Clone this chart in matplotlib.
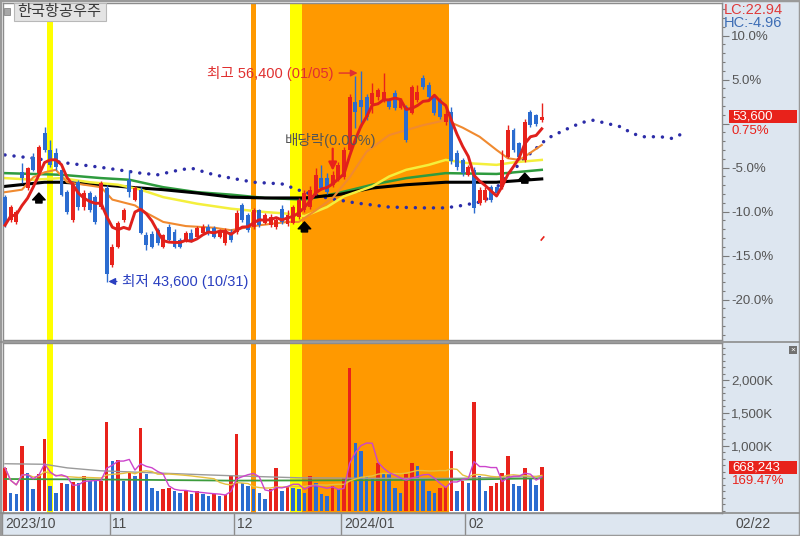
import numpy as np
import pandas as pd
import matplotlib
matplotlib.use("Agg")
import matplotlib.pyplot as plt
import matplotlib.transforms as mtransforms
from matplotlib.patches import Rectangle

plt.rcParams['font.family'] = ['Liberation Sans', 'Noto Sans CJK KR', 'DejaVu Sans']

# ---- data (daily candles 2023/10/04 .. 2024/02/22) ----
stock_name = "한국항공우주"
opens = [48750, 47350, 47250, 50250, 49300, 51200, 50200, 52600, 51600, 51400,
         50400, 49050, 47350, 49650, 48150, 49000, 48750, 48150, 49300, 44650,
         45750, 47350, 49800, 48600, 49200, 46450, 46550, 46750, 45750, 46950,
         46650, 46150, 46150, 46600, 46350, 46600, 46950, 46900, 46350, 45950,
         46650, 46650, 48250, 47650, 46950, 47950, 47200, 47050, 46950, 48050,
         47100, 47200, 47550, 47950, 48150, 49000, 49900, 49900, 49500, 49800,
         49950, 51600, 54500, 54650, 54800, 54400, 54800, 54600, 54600, 55050,
         54150, 54200, 53850, 54600, 55950, 55550, 54800, 54600, 53300, 53900,
         51400, 51000, 50100, 50400, 48400, 48550, 49350, 49350, 49350, 51200,
         52800, 52000, 51000, 53900, 53700, 53400]
closes = [47050, 48150, 47850, 49900, 50500, 50400, 51800, 51600, 50700, 50550,
          48900, 47850, 49500, 48150, 49000, 47950, 47250, 49600, 44100, 45750,
          47200, 47950, 49050, 49300, 46600, 45850, 45750, 45950, 46450, 46150,
          45750, 45750, 46600, 46150, 46900, 46950, 46600, 46350, 46650, 46750,
          46150, 47800, 47350, 46750, 47950, 47050, 47650, 47550, 47350, 47250,
          47650, 48150, 48600, 49000, 49200, 50100, 49300, 49050, 50100, 50700,
          51600, 54800, 53900, 54200, 53600, 55050, 55200, 55100, 54200, 54150,
          54600, 52200, 55400, 55100, 55400, 54800, 53850, 53600, 53800, 50950,
          50550, 50200, 50550, 48100, 49200, 49200, 48600, 49000, 51000, 52800,
          51600, 51200, 53300, 53100, 53200, 53600]
highs = [48850, 48300, 48000, 50800, 50600, 51400, 51900, 53000, 52200, 51700,
         50500, 49200, 49650, 49800, 49200, 49150, 48900, 49750, 49500, 45900,
         47300, 48100, 50400, 49400, 49350, 46650, 46700, 46900, 46550, 47100,
         46800, 46250, 46700, 46800, 47000, 47100, 47100, 47000, 46800, 46900,
         46800, 47950, 48400, 47800, 48100, 48050, 47800, 47700, 47500, 48300,
         48000, 48300, 48700, 49200, 49400, 50500, 50700, 50200, 50300, 50900,
         51800, 55000, 56100, 56400, 55000, 55650, 55350, 56250, 54750, 55250,
         54750, 54300, 55550, 55500, 56150, 55700, 54950, 54750, 54300, 54200,
         51600, 51100, 50700, 50600, 49350, 49350, 49500, 49450, 51600, 53100,
         52900, 52100, 53450, 54000, 53800, 54450]
lows = [46950, 47250, 47150, 49600, 49200, 50300, 50100, 51500, 50600, 50400,
        48800, 47700, 47250, 48000, 48000, 47850, 47100, 48050, 43600, 44500,
        45650, 47250, 48750, 48500, 46500, 45550, 45650, 45850, 45650, 46050,
        45650, 45650, 46050, 46050, 46250, 46500, 46450, 46250, 46250, 45850,
        46050, 46550, 47250, 46650, 46850, 46950, 47100, 46950, 46850, 47150,
        47000, 47100, 47450, 47850, 48050, 48900, 49200, 48950, 49350, 49700,
        49850, 51500, 52950, 53000, 53400, 53850, 54650, 54500, 54100, 54000,
        54050, 52100, 53750, 54500, 55300, 54700, 53700, 53450, 53100, 50750,
        50400, 50050, 50000, 47800, 48300, 48450, 48450, 48900, 49250, 51100,
        51500, 51050, 50900, 53000, 53050, 53300]
volumes = [662000, 277000, 262000, 1000000, 585000, 338000, 569000, 1108000, 385000, 277000,
           431000, 415000, 450000, 431000, 538000, 462000, 455000, 462000, 1354000, 769000,
           775000, 462000, 585000, 538000, 1262000, 569000, 354000, 308000, 338000, 354000,
           308000, 277000, 300000, 262000, 308000, 262000, 231000, 262000, 231000, 240000,
           538000, 1185000, 431000, 385000, 338000, 277000, 185000, 338000, 662000, 308000,
           385000, 354000, 338000, 277000, 538000, 431000, 262000, 231000, 385000, 338000,
           508000, 2185000, 1046000, 923000, 538000, 492000, 738000, 585000, 580000, 354000,
           277000, 569000, 738000, 692000, 492000, 308000, 277000, 354000, 360000, 923000,
           308000, 462000, 431000, 1662000, 538000, 308000, 385000, 431000, 585000, 846000,
           415000, 385000, 662000, 508000, 394307, 668243]

# longer moving averages (index, price)
ma20_x = [0, 3, 5, 7, 9, 11, 14, 17, 19, 23, 25, 28, 32, 37, 40, 45, 50, 52, 55, 58,
          61, 64, 68, 74, 78, 79, 81, 84, 87, 89, 91, 92, 95]
ma20 = [49050, 49200, 49950, 50250, 50400, 49650, 49500, 49350, 48600, 48250, 47800,
        47250, 47000, 46900, 46750, 47050, 47250, 47250, 47950, 48700, 49950, 51500,
        52500, 53100, 53400, 53250, 52950, 52400, 51600, 51100, 51000, 51200, 51900]
ma60_x = [0, 5, 10, 15, 20, 24, 28, 34, 40, 46, 50, 53, 57, 60, 65, 68, 71, 75, 78,
          82, 87, 90, 95]
ma60 = [49900, 49800, 49900, 49650, 49500, 49200, 48750, 48350, 48050, 47850, 47750,
        47600, 48150, 48800, 49400, 50000, 50400, 50700, 51000, 50800, 50700, 50850, 51000]
ma120_x = [0, 10, 17, 22, 28, 34, 40, 46, 53, 59, 65, 71, 78, 87, 95]
ma120 = [50200, 50100, 49900, 49800, 49350, 49050, 48900, 48700, 48600, 49000, 49500,
         49900, 50200, 50150, 50400]
ma240_x = [0, 7, 10, 17, 22, 28, 34, 40, 46, 53, 59, 65, 71, 78, 87, 95]
ma240 = [49400, 49650, 49650, 49500, 49350, 49200, 49000, 48750, 48700, 48700, 48900,
         49300, 49500, 49650, 49650, 49850]
# leading span (runs 26 days past the last candle)
span_x = [0, 5, 10, 17, 24, 27, 31, 33, 37, 40, 44, 49, 53, 57, 62, 68, 74, 78, 81,
          84, 86, 88, 90, 93, 96, 99, 102, 104, 106, 109, 111, 113, 116, 118, 120]
span = [51300, 51100, 50850, 50550, 50200, 50100, 50400, 50500, 50100, 49900, 49650,
        49550, 49050, 48700, 48400, 48150, 48100, 48100, 48250, 48450, 48750, 49800,
        50400, 51400, 52300, 52800, 53250, 53400, 53250, 53000, 52600, 52400, 52400,
        52300, 52600]
# volume moving averages (index, shares)
vma60_x = [0, 7, 11, 17, 26, 35, 40, 52, 65, 80, 95]
vma60 = [723000, 715000, 660000, 615000, 585000, 555000, 540000, 508000, 500000, 500000, 530000]
vma120_x = [0, 20, 40, 60, 80, 95]
vma120 = [490000, 480000, 465000, 470000, 480000, 500000]

month_labels = ['2023/10', '11', '12', '2024/01', '02']
month_starts = [0, 19, 41, 60, 82]
last_date = '02/22'
high_date = '01/05'
low_date = '10/31'
ex_div_idx = 58
ex_div_text = '배당락(0.00%)'
signal_idx = [6, 53, 92]
signal_price = [49000, 47250, 50200]
# highlighted days: (first, last, colour)
bands = [(8, 8, 'yellow'), (44, 44, 'orange'), (51, 52, 'yellow'), (53, 78, 'orange')]

RED = '#e8221b'
BLUE = '#2b6cd0'
PANEL = '#dde6f0'
GRID = '#8c8c8c'
band_colors = {'yellow': '#ffff00', 'orange': '#ff9900'}

W, H = 800, 536
fig = plt.figure(figsize=(W / 100, H / 100), dpi=100, facecolor='white')


def fbox(x0, y0, x1, y1):
    return [x0 / W, 1 - y1 / H, (x1 - x0) / W, (y1 - y0) / H]


def fy(py):
    return 1 - py / H


# right scale panel and date strip
fig.add_artist(Rectangle((722 / W, 0), 78 / W, 1, transform=fig.transFigure,
                         fc=PANEL, ec='none', zorder=-2))
fig.add_artist(Rectangle((0, 0), 722 / W, 23 / H, transform=fig.transFigure,
                         fc=PANEL, ec='none', zorder=-2))

ax = fig.add_axes(fbox(3, 3, 722, 340))
axv = fig.add_axes(fbox(3, 343, 722, 513))

n = len(closes)
x = np.arange(n)
o = np.array(opens)
c = np.array(closes)

for a in (ax, axv):
    for s, e, col in bands:
        a.axvspan(s - 0.5, e + 0.5, color=band_colors[col], lw=0, zorder=0)
    a.set_xlim(-0.354, 126.9)
    a.set_xticks([])
    for sp in a.spines.values():
        sp.set_color(GRID)
        sp.set_linewidth(1)

# ---- price panel ----
ax.plot(span_x, span, color='#2c2ca8', lw=2.5, ls=(0, (0.01, 2.6)),
        dash_capstyle='round', zorder=2)
ax.plot(ma240_x, ma240, color='black', lw=2.2, zorder=2.2)
ax.plot(ma120_x, ma120, color='#2e9b3e', lw=1.8, zorder=2.1)
ax.plot(ma60_x, ma60, color='#f4ef3c', lw=1.8, zorder=2.3)
ax.plot(ma20_x, ma20, color='#f08a30', lw=1.5, zorder=2.4)

ccol = np.where(c >= o, RED, BLUE)
ax.vlines(x, lows, highs, colors=ccol, lw=1, zorder=3)
ax.bar(x, np.maximum(np.abs(c - o), 60), bottom=np.minimum(o, c), width=0.7,
       color=ccol, lw=0, zorder=4)

ma5 = pd.Series(closes).rolling(5, min_periods=1).mean()
ax.plot(x, ma5, color='#e0201c', lw=2.1, zorder=5)

for i, p in zip(signal_idx, signal_price):
    ax.annotate('', xy=(i, p), xytext=(0, -10), textcoords='offset pixels',
                arrowprops=dict(arrowstyle='simple,head_width=1.0,head_length=0.55,tail_width=0.5',
                                fc='black', ec='black', mutation_scale=9,
                                shrinkA=0, shrinkB=0), zorder=6)

hi = int(np.argmax(highs))
ax.annotate(f"최고 {highs[hi]:,} ({high_date})", xy=(hi - 0.6, highs[hi] - 150),
            xytext=(-24, 0), textcoords='offset pixels', ha='right', va='center',
            color='#e03030', fontsize=10.5,
            arrowprops=dict(arrowstyle='-|>', color='#e03030', lw=1, shrinkA=2,
                            shrinkB=0, mutation_scale=10), zorder=7)
lo = int(np.argmin(lows))
ax.annotate(f"최저 {lows[lo]:,} ({low_date})", xy=(lo + 0.3, lows[lo] + 50),
            xytext=(14, 0), textcoords='offset pixels', ha='left', va='center',
            color='#2a3fc0', fontsize=10.5,
            arrowprops=dict(arrowstyle='-|>', color='#2a3fc0', lw=1, shrinkA=2,
                            shrinkB=0, mutation_scale=10), zorder=7)
ax.text(ex_div_idx - 0.4, 52200, ex_div_text, ha='center', va='center',
        color='#555555', fontsize=10.5, zorder=7)
ax.annotate('', xy=(ex_div_idx, highs[ex_div_idx] + 50), xytext=(0, 22),
            textcoords='offset pixels',
            arrowprops=dict(arrowstyle='-|>', color=RED, lw=1.6, mutation_scale=12,
                            shrinkA=0, shrinkB=0), zorder=7)
ax.plot(n - 1, 46300, marker=(2, 0, -40), ms=4, color=RED, mew=1.2, zorder=7)

base = closes[-2]
ax.set_ylim(40113, 60485)
ax.yaxis.tick_right()
pct_major = [-20, -15, -10, -5, 0, 5, 10]
ax.set_yticks([base * (1 + p / 100) for p in pct_major])
ax.set_yticklabels(['' if p == 0 else f'{p:.1f}%' for p in pct_major])
ax.set_yticks([base * (1 + p / 100) for p in range(-24, 14)], minor=True)
ax.tick_params(axis='y', which='major', length=5, width=0.8, color='#7a7a7a',
               labelcolor='#555555', labelsize=9.5, pad=1.5)
ax.tick_params(axis='y', which='minor', length=2.5, width=0.8, color='#7a7a7a')

# ---- volume panel ----
vol = np.array(volumes)
vcol = [RED] + [RED if vol[i] >= vol[i - 1] else BLUE for i in range(1, n)]
axv.bar(x, vol, width=0.62, color=vcol, lw=0, zorder=3)
vma5 = pd.Series(volumes).rolling(5, min_periods=1).mean()
vma20 = pd.Series(volumes).rolling(20, min_periods=1).mean()
axv.plot(vma60_x, vma60, color='#9a9a9a', lw=1.0, zorder=4)
axv.plot(vma120_x, vma120, color='#3c9c3c', lw=1.3, zorder=4)
axv.plot(x, vma20, color='#e6c040', lw=1.0, zorder=4)
axv.plot(x, vma5, color='#cc44cc', lw=1.0, zorder=4)
axv.set_ylim(-30000, 2569000)
axv.yaxis.tick_right()
axv.set_yticks([1000000, 1500000, 2000000])
axv.set_yticklabels([f'{v / 1000:,.0f}K' for v in [1000000, 1500000, 2000000]])
axv.set_yticks(np.arange(0, 2600000, 100000), minor=True)
axv.tick_params(axis='y', which='major', length=5, width=0.8, color='#7a7a7a',
                labelcolor='#555555', labelsize=9.5, pad=1.5)
axv.tick_params(axis='y', which='minor', length=2.5, width=0.8, color='#7a7a7a')

# date strip
trans = mtransforms.blended_transform_factory(axv.transData, axv.transAxes)
strip = 23 / 170
for ms, lab in zip(month_starts, month_labels):
    axv.plot([ms - 0.5, ms - 0.5], [0, -strip], color=GRID, lw=1, transform=trans,
             clip_on=False)
    axv.text(ms, -strip / 2, lab, transform=trans, ha='left', va='center',
             color='#4a4a4a', fontsize=10)
fig.text(736 / W, fy(524), last_date, ha='left', va='center', color='#4a4a4a', fontsize=10)

# separators and frame
for py in (341.5, 513):
    fig.add_artist(plt.Line2D([0, 1], [fy(py), fy(py)], color=GRID, lw=1.2))
fig.add_artist(Rectangle((0, 0), 1, 1, transform=fig.transFigure, fill=False,
                         ec='#9a9a9a', lw=2.5))


def to_fig_y(a, v):
    return fig.transFigure.inverted().transform(a.transData.transform((0, v)))[1]


# last value boxes
last = closes[-1]
yl = to_fig_y(ax, last)
fig.add_artist(Rectangle((729 / W, yl - 6.5 / H), 68 / W, 13 / H, transform=fig.transFigure,
                         fc=RED, ec='none', zorder=5))
fig.text(732 / W, yl, f'{last:,}', color='white', fontsize=9.5, va='center', zorder=6)
fig.text(732 / W, yl - 14 / H, f'{(last / base - 1) * 100:.2f}%', color=RED,
         fontsize=9.5, va='center', zorder=6)

yv = to_fig_y(axv, vol[-1])
fig.add_artist(Rectangle((729 / W, yv - 6.5 / H), 68 / W, 13 / H, transform=fig.transFigure,
                         fc=RED, ec='none', zorder=5))
fig.text(732 / W, yv, f'{vol[-1]:,}', color='white', fontsize=9.5, va='center', zorder=6)
fig.text(732 / W, yv - 14 / H, f'{vol[-1] / vol[-2] * 100:.2f}%', color=RED,
         fontsize=9.5, va='center', zorder=6)

lc = (last / min(lows) - 1) * 100
hc = (last / max(highs) - 1) * 100
fig.text(724 / W, fy(10), f'LC:{lc:.2f}', color='#e03a3a', fontsize=10.5, va='center', zorder=6)
fig.text(724 / W, fy(23), f'HC:{hc:.2f}', color='#3d6db5', fontsize=10.5, va='center', zorder=6)

# title tag and panel close icon
fig.add_artist(Rectangle((4 / W, fy(15)), 6 / W, 7 / H, transform=fig.transFigure,
                         fc='#a8a8a8', ec='#888888', lw=0.6, zorder=5))
fig.add_artist(Rectangle((14 / W, fy(21)), 92 / W, 18 / H, transform=fig.transFigure,
                         fc='#e4e4e4', ec='#b8b8b8', lw=0.8, zorder=5))
fig.text(17 / W, fy(12), stock_name, color='#3a3a3a', fontsize=11, va='center', zorder=6)
fig.add_artist(Rectangle((789 / W, fy(354)), 8 / W, 8 / H, transform=fig.transFigure,
                         fc='#707070', ec='none', zorder=5))
fig.text(793 / W, fy(350), '×', color='white', fontsize=6, ha='center', va='center', zorder=6)

fig.savefig('out.png', dpi=100)
